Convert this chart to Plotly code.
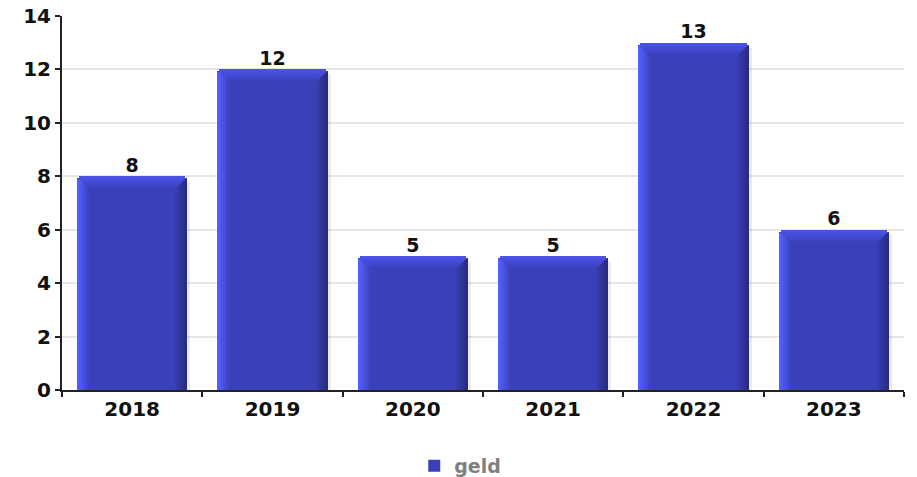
import plotly.graph_objects as go

years = ["2018", "2019", "2020", "2021", "2022", "2023"]
values = [8, 12, 5, 5, 13, 6]
series_name = "geld"
y_ticks = [0, 2, 4, 6, 8, 10, 12, 14]

FACE = (58, 64, 184)
LEFT_BRIGHT = (82, 96, 255)
RIGHT_DARK = (40, 44, 130)
TOP_LIGHT = (74, 82, 232)


def mix(a, b, t):
    return "rgb(%d,%d,%d)" % tuple(round(a[k] + (b[k] - a[k]) * t) for k in range(3))


W = 0.784
N = 6
dx = 2 / 140.3
dy = 2 / 26.7

fig = go.Figure()

# soft shadow on the right side
fig.add_trace(go.Bar(
    x=years, y=[v - 0.2 for v in values], offset=-W / 2 + 0.022, width=W,
    marker=dict(color="rgba(0,0,0,0.08)", line=dict(width=0)),
    showlegend=False, hoverinfo="skip"))

# main bar (legend entry)
fig.add_trace(go.Bar(
    x=years, y=[v - dy for v in values], offset=-W / 2, width=W, name=series_name,
    marker=dict(color=mix(FACE, FACE, 0), line=dict(width=0)),
    showlegend=True))

# left bright bevel
for j in range(N):
    fig.add_trace(go.Bar(
        x=years, y=[v - dy * 1.5 for v in values], offset=-W / 2 + j * dx, width=dx * 1.02,
        marker=dict(color=mix(LEFT_BRIGHT, FACE, j / N), line=dict(width=0)),
        showlegend=False, hoverinfo="skip"))

# right dark bevel
for j in range(N):
    fig.add_trace(go.Bar(
        x=years, y=[v - dy * 1.5 for v in values], offset=W / 2 - (j + 1) * dx, width=dx * 1.02,
        marker=dict(color=mix(RIGHT_DARK, FACE, j / N), line=dict(width=0)),
        showlegend=False, hoverinfo="skip"))

# top bevel (trapezoid made of stacked bands)
for i in range(N):
    fig.add_trace(go.Bar(
        x=years, y=[dy * 1.02] * len(values), base=[v - (i + 1) * dy for v in values],
        offset=-W / 2 + i * dx + (0.012 if i == 0 else 0),
        width=W - 2 * i * dx - (0.024 if i == 0 else 0),
        marker=dict(color=mix(TOP_LIGHT, FACE, i / N), line=dict(width=0),
                    cornerradius=3 if i == 0 else 0),
        showlegend=False, hoverinfo="skip"))

# value labels
fig.add_trace(go.Scatter(
    x=years, y=values, mode="text", text=[str(v) for v in values],
    textposition="top center",
    textfont=dict(family="DejaVu Sans", size=19, color="#111111", weight="bold"),
    showlegend=False, hoverinfo="skip", cliponaxis=False))

fig.update_layout(
    width=909, height=469,
    margin=dict(l=54, r=13, t=8, b=87, autoexpand=False),
    paper_bgcolor="white", plot_bgcolor="white",
    barmode="overlay", bargap=0,
    font=dict(family="DejaVu Sans", size=19, color="#111111", weight="bold"),
    legend=dict(orientation="h", x=0.473, xanchor="center", y=-0.203, yanchor="middle",
                font=dict(family="DejaVu Sans", size=19, color="#7f7f7f", weight="bold"),
                itemwidth=30),
    xaxis=dict(
        type="category", range=[-0.5, 5.5], showline=True, linecolor="#222222", linewidth=2,
        ticks="outside", tickson="boundaries", ticklen=5, tickcolor="#222222", tickwidth=2,
        showgrid=False, zeroline=False, automargin=False,
        tickfont=dict(family="DejaVu Sans", size=20, color="#111111", weight="bold")),
    yaxis=dict(
        range=[0, 14], tickvals=y_ticks, showline=True, linecolor="#222222", linewidth=2,
        ticks="outside", ticklen=5, tickcolor="#222222", tickwidth=2,
        showgrid=True, gridcolor="#e6e6e6", gridwidth=1.5, zeroline=False, automargin=False,
        ticklabeloverflow="allow",
        tickfont=dict(family="DejaVu Sans", size=20, color="#111111", weight="bold")),
)

fig.write_html("out.html")
